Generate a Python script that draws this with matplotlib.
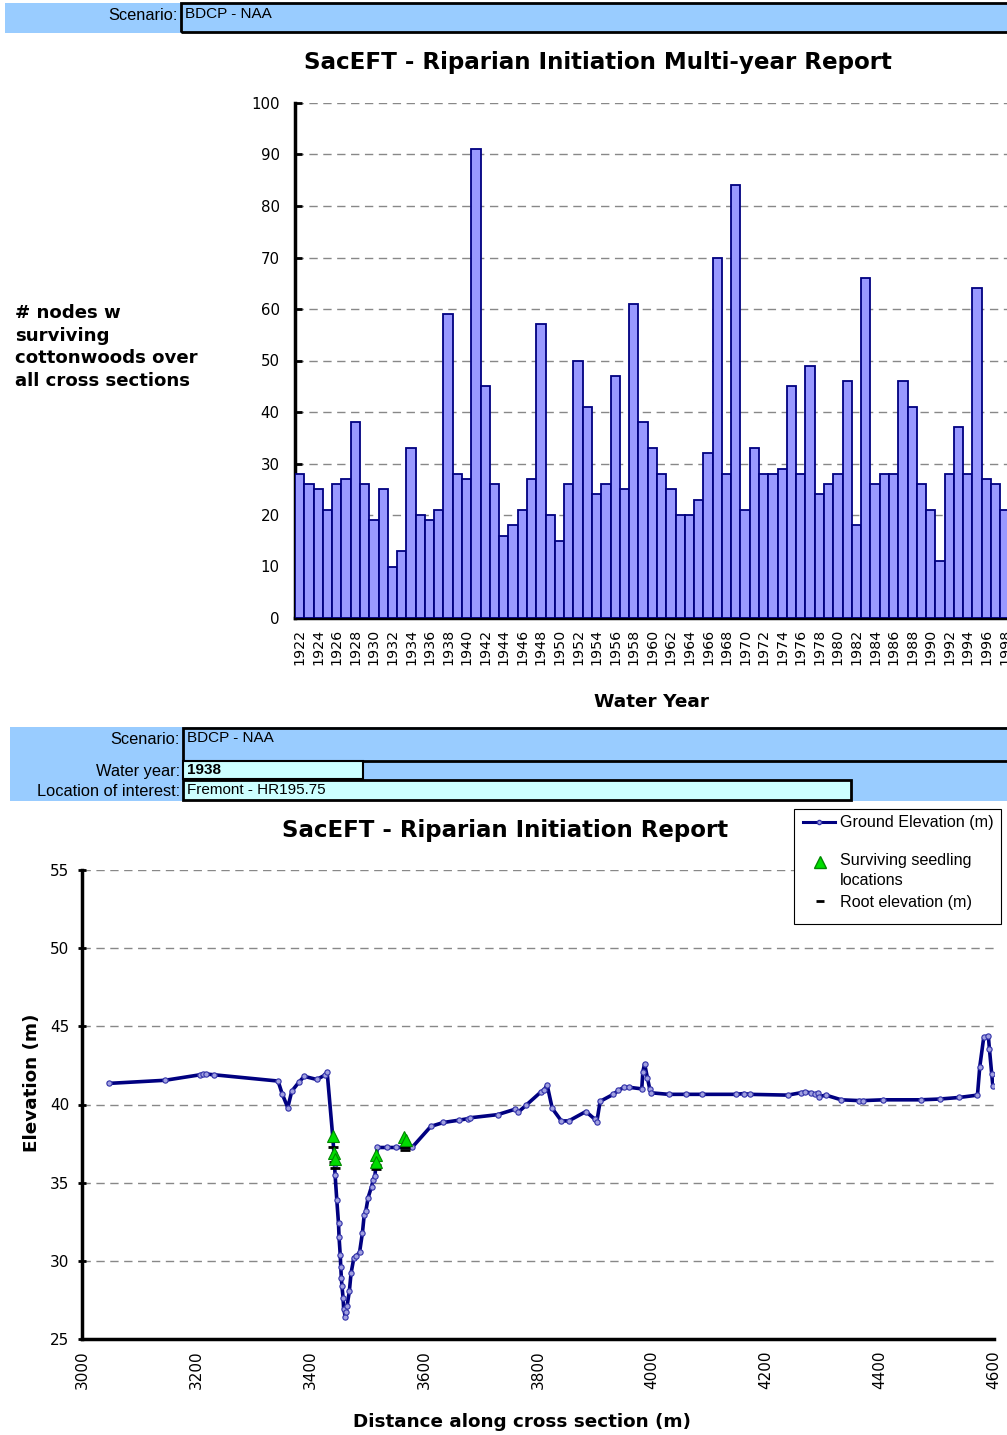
import matplotlib
matplotlib.use("Agg")
import matplotlib.pyplot as plt
from matplotlib.lines import Line2D
from matplotlib.patches import Rectangle

W, H = 1007, 1435

# --- top chart: nodes with surviving cottonwoods per water year
years = list(range(1922, 1999))
nodes = [28, 26, 25, 21, 26, 27, 38, 26, 19, 25, 10, 13, 33, 20, 19, 21, 59, 28,
         27, 91, 45, 26, 16, 18, 21, 27, 57, 20, 15, 26, 50, 41, 24, 26, 47, 25,
         61, 38, 33, 28, 25, 20, 20, 23, 32, 70, 28, 84, 21, 33, 28, 28, 29, 45,
         28, 49, 24, 26, 28, 46, 18, 66, 26, 28, 28, 46, 41, 26, 21, 11, 28, 37,
         28, 64, 27, 26, 21]

# --- bottom chart: cross section at Fremont - HR195.75, water year 1938
dist = [3047, 3146, 3207, 3212, 3217, 3232, 3344, 3351, 3361, 3368, 3381, 3390,
        3412, 3427, 3430, 3440, 3442, 3443, 3444, 3447, 3450, 3451, 3453, 3454,
        3455, 3456, 3458, 3459, 3462, 3463, 3465, 3469, 3472, 3477, 3481, 3487,
        3492, 3495, 3498, 3502, 3508, 3511, 3514, 3518, 3535, 3551, 3579, 3612,
        3634, 3662, 3678, 3681, 3729, 3760, 3765, 3779, 3805, 3811, 3816, 3825,
        3841, 3854, 3884, 3900, 3903, 3909, 3932, 3941, 3951, 3960, 3982, 3984,
        3987, 3992, 3996, 3998, 4029, 4059, 4088, 4147, 4161, 4172, 4238, 4261,
        4268, 4279, 4286, 4292, 4293, 4305, 4332, 4363, 4370, 4406, 4472, 4505,
        4539, 4571, 4575, 4582, 4590, 4592, 4596, 4598]
elev = [41.35, 41.55, 41.9, 41.95, 41.95, 41.9, 41.5, 40.7, 39.8, 40.85, 41.45, 41.8,
        41.6, 41.9, 42.1, 37.9, 36.9, 36.2, 35.5, 33.9, 32.4, 31.5, 30.4, 29.6,
        28.9, 28.4, 27.65, 26.95, 26.4, 26.7, 27.1, 28.05, 29.2, 30.2, 30.3, 30.55,
        31.8, 32.9, 33.2, 34.05, 34.75, 35.2, 35.45, 37.25, 37.25, 37.25, 37.25, 38.6,
        38.85, 39.0, 39.1, 39.15, 39.35, 39.7, 39.5, 39.95, 40.8, 40.95, 41.25, 39.75,
        38.95, 38.95, 39.55, 39.05, 38.85, 40.2, 40.65, 40.9, 41.1, 41.1, 41.0, 42.1,
        42.6, 41.7, 41.0, 40.75, 40.65, 40.65, 40.65, 40.65, 40.7, 40.65, 40.6, 40.75,
        40.8, 40.75, 40.65, 40.75, 40.5, 40.6, 40.3, 40.25, 40.25, 40.3, 40.3, 40.35,
        40.45, 40.6, 42.4, 44.3, 44.4, 43.55, 41.95, 41.2]

seed_dist = [3440, 3442, 3443, 3516, 3515, 3565, 3568]
seed_elev = [38.0, 36.9, 36.5, 36.8, 36.3, 37.9, 37.7]
root_dist = [3441, 3442, 3444, 3516, 3515, 3566, 3567]
root_elev = [37.25, 36.35, 35.95, 36.1, 35.85, 37.3, 37.1]

NARROW = ["Liberation Sans Narrow", "Liberation Sans", "DejaVu Sans"]
BAR_FILL, BAR_EDGE = "#9999FF", "#000080"
HEAD_BLUE, HEAD_CYAN = "#99CCFF", "#CCFFFF"
LINE_C, DOT_FILL, DOT_EDGE = "#000080", "#A0A0E0", "#3333AA"
SEED_FILL, SEED_EDGE = "#00DD00", "#008800"


def fx(x):
    return x / W


def fy(y):
    return 1 - y / H


def box(fig, x0, y0, x1, y1, **kw):
    """rectangle in pixel coords, y measured from the top"""
    fig.add_artist(Rectangle((fx(x0), fy(y1)), (x1 - x0) / W, (y1 - y0) / H,
                             transform=fig.transFigure, **kw))


def txt(fig, x, y, s, **kw):
    fig.text(fx(x), fy(y), s, **kw)


fig = plt.figure(figsize=(W / 100, H / 100), dpi=100)

# header blocks
box(fig, 5, 3, 1007, 33, facecolor=HEAD_BLUE, edgecolor="none")
box(fig, 181, 3, 1010, 32, facecolor="none", edgecolor="black", linewidth=2)
txt(fig, 178, 15, "Scenario:", ha="right", va="center", fontsize=11.8, family=NARROW)
txt(fig, 185, 14, "BDCP - NAA", ha="left", va="center", fontsize=11, family=NARROW)

box(fig, 10, 727, 1007, 801, facecolor=HEAD_BLUE, edgecolor="none")
box(fig, 183, 728, 1010, 761, facecolor="none", edgecolor="black", linewidth=2)
box(fig, 183, 761, 363, 779, facecolor=HEAD_CYAN, edgecolor="black", linewidth=1.5)
box(fig, 183, 780, 851, 800, facecolor=HEAD_CYAN, edgecolor="black", linewidth=2)
txt(fig, 180, 739, "Scenario:", ha="right", va="center", fontsize=11.8, family=NARROW)
txt(fig, 187, 738, "BDCP - NAA", ha="left", va="center", fontsize=11, family=NARROW)
txt(fig, 180, 771, "Water year:", ha="right", va="center", fontsize=11.8,
    family=NARROW)
txt(fig, 187, 770, "1938", ha="left", va="center", fontsize=11, family=NARROW,
    fontweight="bold")
txt(fig, 180, 791, "Location of interest:", ha="right", va="center", fontsize=11.8,
    family=NARROW)
txt(fig, 187, 790, "Fremont - HR195.75", ha="left", va="center", fontsize=11,
    family=NARROW)

# ---------------- multi-year bar chart
ax1 = fig.add_axes([fx(295), fy(618), (1056 - 295) / W, 515 / H])
pos = list(range(len(years)))
ax1.bar(pos, nodes, width=1.0, color=BAR_FILL, edgecolor=BAR_EDGE, linewidth=1.3,
        zorder=3)
ax1.set_xlim(-0.5, 81.5)
ax1.set_ylim(0, 100)
ax1.set_yticks(range(0, 101, 10))
ax1.set_xticks(pos[::2])
ax1.set_xticklabels([str(y) for y in years[::2]], rotation=90, fontsize=10.3)
ax1.set_xticks([p + 0.5 for p in pos], minor=True)
ax1.tick_params(axis="x", which="major", length=0, pad=8)
ax1.tick_params(axis="x", which="minor", direction="in", length=4, width=1.5)
ax1.tick_params(axis="y", direction="in", length=5, width=2, labelsize=10.8, pad=11)
ax1.grid(axis="y", color="#888888", linestyle=(0, (6, 4)), linewidth=1, zorder=0)
for s in ("top", "right"):
    ax1.spines[s].set_visible(False)
ax1.spines["left"].set_linewidth(2.5)
ax1.spines["bottom"].set_linewidth(2.5)
ax1.set_axisbelow(True)

txt(fig, 598, 62, "SacEFT - Riparian Initiation Multi-year Report", ha="center",
    va="center", fontsize=16.6, fontweight="bold")
txt(fig, 651, 702, "Water Year", ha="center", va="center", fontsize=13.3,
    fontweight="bold")
txt(fig, 15, 347, "# nodes w\nsurviving\ncottonwoods over\nall cross sections",
    ha="left", va="center", fontsize=13.1, fontweight="bold", linespacing=1.32)

# ---------------- cross section chart
ax2 = fig.add_axes([fx(82), fy(1339), 912 / W, 469 / H])
ax2.plot(dist, elev, color=LINE_C, linewidth=2.6, marker="o", markersize=3.8,
         markerfacecolor=DOT_FILL, markeredgecolor=DOT_EDGE, markeredgewidth=0.8,
         zorder=3)
ax2.plot(root_dist, root_elev, linestyle="none", marker="_", markersize=7,
         markeredgewidth=2, color="black", zorder=4)
ax2.plot(seed_dist, seed_elev, linestyle="none", marker="^", markersize=9,
         markerfacecolor=SEED_FILL, markeredgecolor=SEED_EDGE, markeredgewidth=0.8,
         zorder=5)
ax2.set_xlim(3000, 4600)
ax2.set_ylim(25, 55)
ax2.set_xticks(range(3000, 4601, 200))
ax2.set_yticks(range(25, 56, 5))
ax2.tick_params(axis="x", labelrotation=90, labelsize=11, length=0, pad=8)
ax2.tick_params(axis="y", direction="inout", length=6, width=2, labelsize=11, pad=6)
ax2.grid(axis="y", color="#888888", linestyle=(0, (6, 4)), linewidth=1, zorder=0)
for s in ("top", "right"):
    ax2.spines[s].set_visible(False)
ax2.spines["left"].set_linewidth(2.5)
ax2.spines["bottom"].set_linewidth(2.5)

txt(fig, 505, 831, "SacEFT - Riparian Initiation Report", ha="center", va="center",
    fontsize=16.5, fontweight="bold")
txt(fig, 522, 1422, "Distance along cross section (m)", ha="center", va="center",
    fontsize=13.2, fontweight="bold")
txt(fig, 32, 1083, "Elevation (m)", ha="center", va="center", rotation=90,
    fontsize=13.2, fontweight="bold")

# legend drawn by hand so it keeps the reference's box
box(fig, 794, 809, 1001, 924, facecolor="white", edgecolor="black", linewidth=0.8,
    zorder=10)
fig.add_artist(Line2D([fx(803), fx(835)], [fy(822), fy(822)], color=LINE_C,
                      linewidth=2.2, transform=fig.transFigure, zorder=11))
fig.add_artist(Line2D([fx(819)], [fy(822)], linestyle="none", marker="o",
                      markersize=3, markerfacecolor=DOT_FILL, markeredgecolor=DOT_EDGE,
                      transform=fig.transFigure, zorder=12))
fig.add_artist(Line2D([fx(820)], [fy(862)], linestyle="none", marker="^",
                      markersize=9, markerfacecolor=SEED_FILL,
                      markeredgecolor=SEED_EDGE, transform=fig.transFigure, zorder=12))
fig.add_artist(Line2D([fx(820)], [fy(901)], linestyle="none", marker="_",
                      markersize=6, markeredgewidth=2, color="black",
                      transform=fig.transFigure, zorder=12))
leg_kw = dict(ha="left", fontsize=11.6, family=NARROW, zorder=13)
txt(fig, 840, 823, "Ground Elevation (m)", va="center", **leg_kw)
txt(fig, 840, 853, "Surviving seedling\nlocations", va="top", linespacing=1.4,
    **leg_kw)
txt(fig, 840, 902, "Root elevation (m)", va="center", **leg_kw)

fig.savefig("out.png", dpi=100)
